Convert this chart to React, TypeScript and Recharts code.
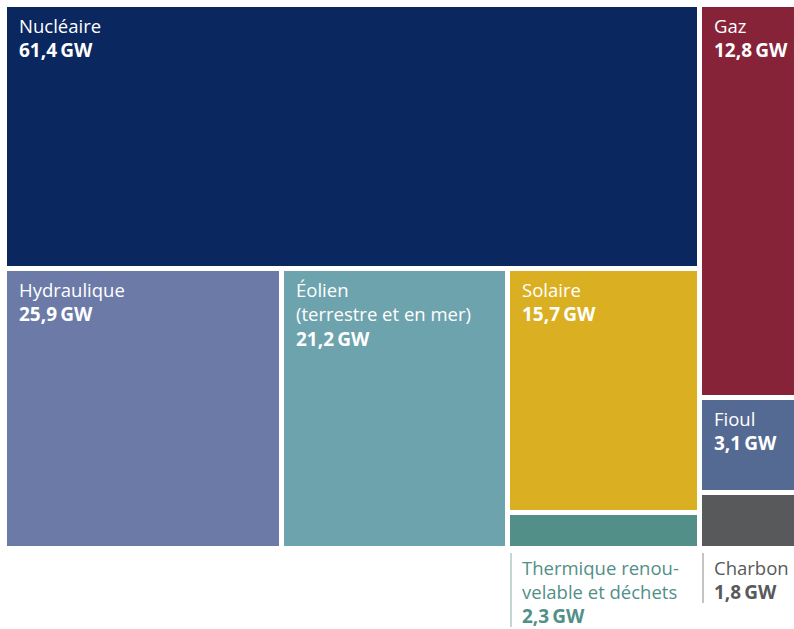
import React from "react";
import { Treemap } from "recharts";

// installed capacity by source (GW)
const sources = [
  "Nucléaire",
  "Hydraulique",
  "Éolien",
  "Solaire",
  "Thermique renouvelable et déchets",
  "Gaz",
  "Fioul",
  "Charbon",
];
const capacities = [61.4, 25.9, 21.2, 15.7, 2.3, 12.8, 3.1, 1.8];
const labelLines = [
  ["Nucléaire"],
  ["Hydraulique"],
  ["Éolien", "(terrestre et en mer)"],
  ["Solaire"],
  ["Thermique renou-", "velable et déchets"],
  ["Gaz"],
  ["Fioul"],
  ["Charbon"],
];
const colors = [
  "#0a2760",
  "#6c7aa8",
  "#6ca3ad",
  "#dab022",
  "#528f88",
  "#862339",
  "#546a93",
  "#58595b",
];
// small tiles get their label underneath
const labelBelow = ["Thermique renouvelable et déchets", "Charbon"];

const GAP = 5;
const FONT = "'Open Sans', 'Noto Sans', sans-serif";
const FS = 18.5;
const FS_BOLD = 19;

const leaf = (i: number) => ({
  name: sources[i],
  value: capacities[i],
  color: colors[i],
  lines: labelLines[i],
  below: labelBelow.includes(sources[i]),
});

const data = [
  {
    name: "electrique",
    children: [
      leaf(0),
      {
        name: "renouvelables",
        children: [
          leaf(1),
          leaf(2),
          { name: "solaire-thermique", children: [leaf(3), leaf(4)] },
        ],
      },
    ],
  },
  { name: "fossile", children: [leaf(5), leaf(6), leaf(7)] },
];

const fmt = (v: number) => v.toFixed(1).replace(".", ",") + "\u2009GW";

const Tile = (props: any) => {
  const { x, y, width, height, children, color, lines, value, below } = props;
  if ((children && children.length) || !lines) return <g />;
  const w = width - GAP;
  const h = height - GAP;
  const tx = x + 12;

  if (below) {
    const base = y + h + 29;
    const lastBase = base + 24 * lines.length;
    return (
      <g>
        <rect x={x} y={y} width={w} height={h} fill={color} />
        <line
          x1={x + 1}
          x2={x + 1}
          y1={y + h + 7}
          y2={lastBase + 4}
          stroke={color}
          strokeOpacity={0.7}
          strokeWidth={1}
        />
        {lines.map((l: string, i: number) => (
          <text key={i} x={tx} y={base + 24 * i} fill={color} fontSize={FS} fontFamily={FONT}>
            {l}
          </text>
        ))}
        <text x={tx} y={lastBase} fill={color} fontSize={FS_BOLD} fontWeight="bold" fontFamily={FONT}>
          {fmt(value)}
        </text>
      </g>
    );
  }

  const base = y + 25.5;
  return (
    <g>
      <rect x={x} y={y} width={w} height={h} fill={color} />
      {lines.map((l: string, i: number) => (
        <text key={i} x={tx} y={base + 24.5 * i} fill="#fff" fontSize={FS} fontFamily={FONT}>
          {l}
        </text>
      ))}
      <text
        x={tx}
        y={base + 24.5 * lines.length}
        fill="#fff"
        fontSize={FS_BOLD}
        fontWeight="bold"
        fontFamily={FONT}>
        {fmt(value)}
      </text>
    </g>
  );
};

export default function App() {
  return (
    <div
      style={{
        position: "absolute",
        left: 0,
        top: 0,
        width: 794,
        height: 629,
        overflow: "hidden",
        background: "#fff",
      }}>
      <style>{`.recharts-surface{overflow:visible}`}</style>
      <div style={{ position: "absolute", left: 7, top: 7 }}>
        <Treemap
          width={792}
          height={544}
          data={data}
          dataKey="value"
          isAnimationActive={false}
          content={(p: any) => <Tile {...p} />}
        />
      </div>
    </div>
  );
}
